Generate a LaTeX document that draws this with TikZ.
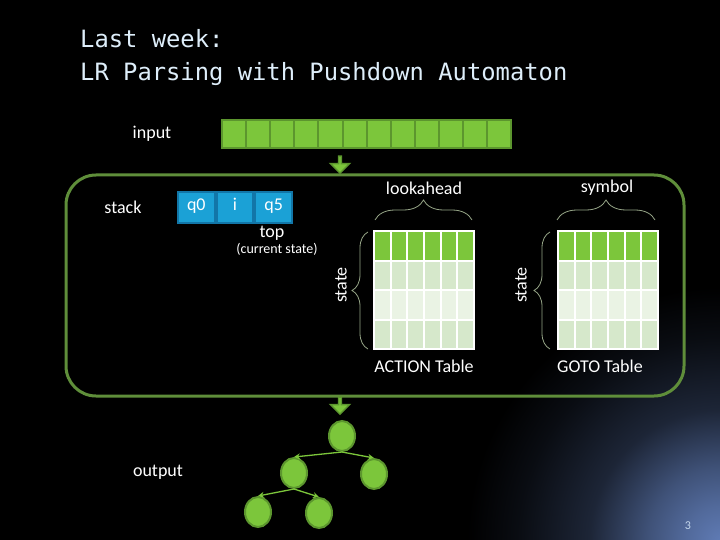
\documentclass[tikz,border=0pt]{standalone}
\usepackage{fontspec}
\setmainfont{Carlito}
\newfontfamily\titlefont{DejaVu Sans Mono}
\usetikzlibrary{arrows.meta, positioning, decorations.pathreplacing, shapes.arrows, shapes.geometric}
\definecolor{lrgreen}{RGB}{124, 198, 59}
\definecolor{lrdkgreen}{RGB}{92, 150, 46}
\definecolor{lrframe}{RGB}{95, 142, 58}
\definecolor{lrblue}{RGB}{27, 161, 214}
\definecolor{lrdkblue}{RGB}{18, 118, 168}
\definecolor{lrpale}{RGB}{214, 232, 203}
\definecolor{lrpaler}{RGB}{234, 243, 228}
\definecolor{lrbrace}{RGB}{150, 165, 135}
\definecolor{lrtitle}{RGB}{222, 238, 250}
\definecolor{lrglow}{RGB}{96, 124, 182}
\pgfdeclareradialshading{cornerglow}{\pgfpoint{0bp}{0bp}}{%
  color(0bp)=(lrglow); color(3.6bp)=(lrglow!85!black);
  color(7.3bp)=(lrglow!66!black); color(13bp)=(lrglow!30!black);
  color(20bp)=(lrglow!10!black); color(25bp)=(black); color(50bp)=(black)}
\tikzset{
  lbl/.style={text=white, font=\fontsize{18}{21}\selectfont, inner sep=0pt},
  tapecell/.style={draw=lrdkgreen, fill=lrgreen, line width=2pt,
    minimum width=24.1pt, minimum height=28pt, inner sep=0pt},
  stackcell/.style={draw=lrdkblue, fill=lrblue, line width=2pt, text=white,
    minimum width=36.7pt, minimum height=31pt, inner sep=0pt,
    text height=9pt, text depth=3pt, font=\fontsize{18}{21}\selectfont},
  tblcell/.style={draw=white, line width=2pt, minimum width=16.7pt,
    minimum height=29.5pt, inner sep=0pt},
  pushdown/.style={single arrow, rotate=-90, draw=lrdkgreen,
    fill=lrgreen, line width=1.5pt, minimum width=19pt, minimum height=17pt,
    single arrow head extend=4.5pt, single arrow head indent=0pt, inner sep=0pt},
  treenode/.style={ellipse, draw=lrdkgreen, fill=lrgreen, line width=2pt,
    minimum width=26pt, minimum height=30pt, inner sep=0pt},
  treeedge/.style={-{Stealth[length=6pt, width=6pt]}, lrgreen, line width=1.3pt},
  bracket/.style={decorate, lrbrace, line width=0.8pt}
}

\begin{document}
\begin{tikzpicture}[x=1pt, y=-1pt]

  % --- slide background ---
  \useasboundingbox (0,0) rectangle (720,540);
  \fill[black] (0,0) rectangle (720,540);
  \begin{scope}
    \clip (0,0) rectangle (720,540);
    \shade[shading=cornerglow] (722,542) circle (255);
  \end{scope}

  % --- title ---
  \node[anchor=base west, inner sep=0pt, text=lrtitle,
    font=\titlefont\fontsize{23.8}{26}\selectfont] (title1) at (80,48) {Last week:};
  \node[anchor=base west, inner sep=0pt, text=lrtitle,
    font=\titlefont\fontsize{23.8}{26}\selectfont] (title2) at (80,81)
    {LR Parsing with Pushdown Automaton};

  % --- input tape ---
  \node[lbl] (inputlbl) at (152,134) {input};
  \foreach \i in {0,...,11}
    \node[tapecell] (tape\i) at ({234.05+24.1*\i},134) {};
  \node[pushdown] (inarrow) at (340,164) {};

  % --- the automaton ---
  \draw[lrframe, line width=3pt, rounded corners=30pt] (66,175) rectangle (684,396);

  % --- stack ---
  \node[lbl] (stacklbl) at (123,207) {stack};
  \node[stackcell] (sq0) at (196.3,207.5) {q0};
  \node[stackcell, right=0pt of sq0] (si) {i};
  \node[stackcell, right=0pt of si] (sq5) {q5};
  \node[lbl] (toplbl) at (272,233) {top};
  \node[lbl, font=\fontsize{14}{16}\selectfont] (curlbl) at (277,249) {(current state)};

  % --- ACTION and GOTO tables ---
  \foreach \t/\x in {act/382.3, gto/566.3} {
    \foreach \c in {0,...,5} {
      \node[tblcell, fill=lrgreen] (\t-0-\c) at ({\x+16.7*\c},245.75) {};
      \node[tblcell, fill=lrpale] (\t-1-\c) at ({\x+16.7*\c},275.25) {};
      \node[tblcell, fill=lrpaler] (\t-2-\c) at ({\x+16.7*\c},304.75) {};
      \node[tblcell, fill=lrpale] (\t-3-\c) at ({\x+16.7*\c},334.25) {};
    }
  }
  \node[lbl] (actlbl) at (424,366) {ACTION Table};
  \node[lbl] (gtolbl) at (600,366) {GOTO Table};

  % --- braces ---
  \draw[bracket, decoration={brace, amplitude=20pt}] (375,220) -- (472,220);
  \draw[bracket, decoration={brace, amplitude=20pt}] (557,220) -- (655,220);
  \draw[bracket, decoration={brace, amplitude=16pt}] (368,349) -- (368,232);
  \draw[bracket, decoration={brace, amplitude=16pt}] (550,349) -- (550,232);
  \node[lbl] (lookahead) at (424,188) {lookahead};
  \node[lbl] (symbol) at (607,188) {symbol};
  \node[lbl, rotate=90] (actstate) at (341,285) {state};
  \node[lbl, rotate=90] (gtostate) at (521,285) {state};

  % --- output parse tree ---
  \node[pushdown] (outarrow) at (340,405) {};
  \node[lbl] (outputlbl) at (158,472) {output};
  \node[treenode] (root) at (342,436) {};
  \node[treenode] (left) at (294,473) {};
  \node[treenode] (right) at (374,474) {};
  \node[treenode] (leftleft) at (258,512) {};
  \node[treenode] (leftright) at (319,513) {};
  \draw[treeedge] (root.south) -- (left.north);
  \draw[treeedge] (root.south) -- (right.north);
  \draw[treeedge] (left.south) -- (leftleft.north);
  \draw[treeedge] (left.south) -- (leftright.north);

  % --- page number ---
  \node[text=lrtitle!80!lrglow, font=\fontsize{12}{14}\selectfont] (pagenum) at (688,526) {3};

\end{tikzpicture}
\end{document}
